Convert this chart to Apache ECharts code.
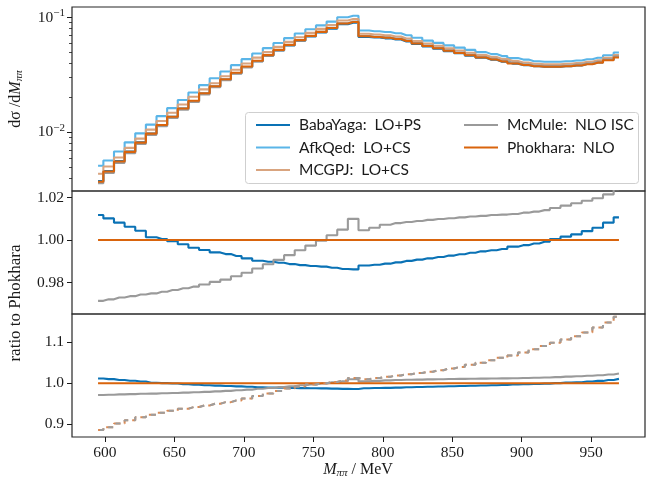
<!DOCTYPE html>
<html><head><meta charset="utf-8">
<script src="https://cdn.jsdelivr.net/npm/echarts@6/dist/echarts.min.js"></script>
<style>html,body{margin:0;padding:0;background:#fff}#c{width:647px;height:483px}</style>
</head><body><div id="c"></div><script>
// bin centres, MeV
const mass = [595.00,602.65,610.31,617.96,625.61,633.27,640.92,648.57,656.22,663.88,671.53,679.18,686.84,694.49,702.14,709.80,717.45,725.10,732.76,740.41,748.06,755.71,763.37,771.02,778.67,786.33,793.98,801.63,809.29,816.94,824.59,832.24,839.90,847.55,855.20,862.86,870.51,878.16,885.82,893.47,901.12,908.78,916.43,924.08,931.73,939.39,947.04,954.69,962.35,970.00];

// top panel: dsigma/dM
const topBabaYaga = [0.003757,0.004601,0.005612,0.006794,0.008169,0.009756,0.01159,0.01366,0.01609,0.01874,0.02176,0.02506,0.02876,0.03274,0.03704,0.04164,0.04656,0.05166,0.05707,0.06269,0.06831,0.07396,0.07995,0.08745,0.09012,0.06777,0.06686,0.06583,0.0643,0.06182,0.05882,0.05596,0.05348,0.0509,0.04873,0.04656,0.04458,0.04285,0.04121,0.03963,0.03848,0.03759,0.03725,0.0373,0.03764,0.03828,0.03928,0.04063,0.04273,0.0453];
const topAfkQed = [0.005117,0.00568,0.006802,0.008169,0.009784,0.01167,0.01382,0.01625,0.01912,0.02221,0.02577,0.0296,0.03384,0.03843,0.04334,0.04861,0.05414,0.05995,0.06615,0.07257,0.0789,0.08531,0.0921,0.1006,0.1034,0.07703,0.07596,0.07476,0.07297,0.07011,0.06667,0.06289,0.06006,0.05711,0.05465,0.05218,0.04993,0.04797,0.0461,0.04428,0.04297,0.0416,0.0412,0.0412,0.04153,0.04219,0.04323,0.04464,0.04683,0.04953];
const topMCGPJ = [0.004359,0.005033,0.006028,0.007311,0.008808,0.01055,0.01254,0.0148,0.01746,0.02037,0.02367,0.02677,0.03074,0.03504,0.03968,0.04466,0.04996,0.05546,0.0613,0.06737,0.07344,0.07954,0.08602,0.09416,0.09705,0.07209,0.07109,0.06997,0.06829,0.06561,0.0624,0.05933,0.05666,0.05388,0.05156,0.04923,0.04711,0.04526,0.04349,0.04178,0.04054,0.03957,0.03918,0.03918,0.0395,0.04013,0.04112,0.04246,0.04454,0.04711];
const topMcMule = [0.003607,0.004428,0.005416,0.006573,0.007925,0.009498,0.0113,0.01335,0.01575,0.0184,0.0214,0.02471,0.02841,0.03243,0.03678,0.04149,0.0465,0.05173,0.05731,0.06314,0.06897,0.07488,0.08119,0.0891,0.09229,0.06891,0.06803,0.06705,0.0655,0.06296,0.0599,0.05699,0.05444,0.0518,0.04958,0.04736,0.04533,0.04357,0.04188,0.04024,0.03907,0.03815,0.03781,0.03784,0.03819,0.03884,0.03984,0.0412,0.04329,0.0459];
const topPhokhara = [0.003713,0.004555,0.005566,0.006751,0.008133,0.009743,0.01158,0.01367,0.01612,0.01881,0.02186,0.02521,0.02895,0.03299,0.03736,0.04205,0.04704,0.05222,0.05772,0.06344,0.06915,0.0749,0.081,0.08866,0.09138,0.06859,0.06764,0.06657,0.06498,0.06243,0.05937,0.05645,0.05391,0.05127,0.04906,0.04684,0.04482,0.04306,0.04138,0.03975,0.03857,0.03765,0.03728,0.03728,0.03758,0.03818,0.03912,0.0404,0.04238,0.04482];

// ratios to Phokhara
const ratioBabaYaga = [1.0118,1.0102,1.0082,1.0063,1.0044,1.0013,1.0005,0.9995,0.9980,0.9964,0.9953,0.9942,0.9934,0.9925,0.9914,0.9903,0.9898,0.9893,0.9887,0.9882,0.9878,0.9875,0.9870,0.9864,0.9862,0.9880,0.9884,0.9889,0.9895,0.9902,0.9908,0.9914,0.9920,0.9927,0.9933,0.9940,0.9947,0.9952,0.9958,0.9969,0.9976,0.9984,0.9992,1.0005,1.0016,1.0027,1.0042,1.0058,1.0082,1.0107];
const ratioMcMule = [0.9714,0.9721,0.9730,0.9736,0.9744,0.9749,0.9757,0.9765,0.9773,0.9781,0.9791,0.9803,0.9814,0.9830,0.9846,0.9866,0.9886,0.9907,0.9929,0.9952,0.9974,0.9997,1.0023,1.0049,1.0100,1.0046,1.0058,1.0072,1.0080,1.0085,1.0090,1.0095,1.0099,1.0103,1.0107,1.0111,1.0114,1.0118,1.0120,1.0123,1.0129,1.0134,1.0141,1.0151,1.0162,1.0173,1.0185,1.0197,1.0215,1.0240];
const ratioPhokhara = [1,1,1,1,1,1,1,1,1,1,1,1,1,1,1,1,1,1,1,1,1,1,1,1,1,1,1,1,1,1,1,1,1,1,1,1,1,1,1,1,1,1,1,1,1,1,1,1,1,1];
const ratioLO = [0.886,0.893,0.902,0.910,0.917,0.923,0.928,0.933,0.938,0.942,0.946,0.950,0.954,0.958,0.963,0.969,0.975,0.981,0.987,0.992,0.997,1.000,1.003,1.007,1.013,1.010,1.013,1.016,1.019,1.022,1.025,1.028,1.032,1.036,1.040,1.045,1.050,1.056,1.062,1.068,1.075,1.083,1.091,1.099,1.107,1.115,1.124,1.136,1.148,1.162];

const xTicks = [600,650,700,750,800,850,900,950];
const topMajor = [0.01,0.1];
const topMinor = [0.004,0.005,0.006,0.007,0.008,0.009,0.02,0.03,0.04,0.05,0.06,0.07,0.08,0.09];
const midTicks = [0.98,1.00,1.02];
const botTicks = [0.9,1.0,1.1];

const names = ['BabaYaga: LO+PS','AfkQed: LO+CS','MCGPJ: LO+CS','McMule: NLO ISC','Phokhara: NLO'];
const colors = {'BabaYaga: LO+PS':'#0a72b5','AfkQed: LO+CS':'#5ab5e8','MCGPJ: LO+CS':'#d9a47f','McMule: NLO ISC':'#9a9a9a','Phokhara: NLO':'#d9640c'};

const SERIF = '"Liberation Serif", "DejaVu Serif", serif';
const TXT = '#1a1a1a';
const L = 72, W = 573;
const G = [{top:7,h:184},{top:191,h:123},{top:314,h:123}];

const pts = arr => mass.map((m,i)=>[m, arr[i]]);
function line(name, data, xi, yi, extra) {
  return Object.assign({
    type:'line', name, data: pts(data), xAxisIndex: xi, yAxisIndex: yi,
    step:'middle', showSymbol:false, symbol:'none', silent:true, animation:false,
    lineStyle:{color: colors[name] || '#999', width:2.1}, itemStyle:{color: colors[name] || '#999'}
  }, extra||{});
}

const xAxes = G.map((g,i)=>({
  type:'value', gridIndex:i, min:576.25, max:988.75,
  axisLine:{show:false}, splitLine:{show:false},
  axisTick:{show:i===2, length:5, inside:false, customValues:xTicks, lineStyle:{color:TXT,width:1}},
  axisLabel:{show:i===2, customValues:xTicks, margin:8, fontFamily:SERIF, fontSize:15.5, color:TXT}
}));

const yAxes = [
  {type:'log', logBase:10, gridIndex:0, position:'left', min:0.00308, max:0.1234,
   axisLine:{show:false}, splitLine:{show:false}, minorTick:{show:false},
   axisTick:{show:true, length:5, customValues:topMajor, lineStyle:{color:TXT,width:1}},
   axisLabel:{customValues:topMajor, margin:7,
     formatter: v => '{b|10}{s|−' + Math.round(-Math.log10(v)) + '}',
     rich:{b:{fontFamily:SERIF,fontSize:15.5,color:TXT}, s:{fontFamily:SERIF,fontSize:11,color:TXT,padding:[0,0,9,0]}}}},
  {type:'log', logBase:10, gridIndex:0, position:'left', offset:0, min:0.00308, max:0.1234,
   axisLine:{show:false}, splitLine:{show:false},
   axisTick:{show:true, length:3, customValues:topMinor, lineStyle:{color:TXT,width:0.8}},
   axisLabel:{show:false}},
  {type:'value', gridIndex:1, min:0.9652, max:1.0231,
   axisLine:{show:false}, splitLine:{show:false},
   axisTick:{show:true, length:5, customValues:midTicks, lineStyle:{color:TXT,width:1}},
   axisLabel:{customValues:midTicks, margin:8, formatter:v=>v.toFixed(2), fontFamily:SERIF, fontSize:15.5, color:TXT}},
  {type:'value', gridIndex:2, min:0.869, max:1.169,
   axisLine:{show:false}, splitLine:{show:false},
   axisTick:{show:true, length:5, customValues:botTicks, lineStyle:{color:TXT,width:1}},
   axisLabel:{customValues:botTicks, margin:8, formatter:v=>v.toFixed(1), fontFamily:SERIF, fontSize:15.5, color:TXT}}
];

const series = [
  line(names[0], topBabaYaga, 0, 0),
  line(names[1], topAfkQed, 0, 0),
  line(names[2], topMCGPJ, 0, 0),
  line(names[3], topMcMule, 0, 0),
  line(names[4], topPhokhara, 0, 0),
  line(names[0], ratioBabaYaga, 1, 2),
  line(names[3], ratioMcMule, 1, 2),
  line(names[4], ratioPhokhara, 1, 2),
  line(names[0], ratioBabaYaga, 2, 3),
  line(names[3], ratioMcMule, 2, 3),
  line(names[4], ratioPhokhara, 2, 3),
  line('LO MCGPJ', ratioLO, 2, 3, {lineStyle:{color:'#d98a55', width:2, type:[7,4], dashOffset:0}}),
  line('LO McMule', ratioLO, 2, 3, {lineStyle:{color:'#9d9d9d', width:2, type:[5,6], dashOffset:-2}})
];

const legendText = {fontFamily:'Lato, "Open Sans", sans-serif', fontSize:15.5, color:TXT, padding:[0,0,0,4]};
const legendFmt = n => n.replace(': ', ':  ');
const option = {
  backgroundColor:'#fff', animation:false,
  grid: G.map(g=>({left:L, top:g.top, width:W, height:g.h, show:true, borderColor:'#262626', borderWidth:1.2, backgroundColor:'transparent'})),
  xAxis: xAxes, yAxis: yAxes, series,
  legend: [
    {data:names.slice(0,3), formatter:legendFmt, orient:'vertical', left:251, top:112, icon:'rect', itemWidth:34, itemHeight:2, itemGap:6.5, textStyle:legendText, selectedMode:false, z:6},
    {data:names.slice(3), formatter:legendFmt, orient:'vertical', left:459, top:112, icon:'rect', itemWidth:34, itemHeight:2, itemGap:6.5, textStyle:legendText, selectedMode:false, z:6}
  ],
  graphic: [
    {type:'rect', z:5, shape:{x:245.5, y:112.5, width:393, height:71, r:3}, style:{fill:'rgba(255,255,255,0.85)', stroke:'#cfcfcf', lineWidth:1}},
    {type:'text', x:16, y:99, rotation:Math.PI/2, style:{text:'{a|dσ /d}{i|M}{s|ππ}', align:'center', verticalAlign:'middle',
      rich:{a:{fontFamily:SERIF,fontSize:16,fill:TXT}, i:{fontFamily:SERIF,fontStyle:'italic',fontSize:16,fill:TXT}, s:{fontFamily:SERIF,fontStyle:'italic',fontSize:11,fill:TXT,padding:[6,0,0,0]}}}},
    {type:'text', x:16, y:303, rotation:Math.PI/2, style:{text:'ratio to Phokhara', align:'center', verticalAlign:'middle', fontFamily:SERIF, fontSize:17, fill:TXT}},
    {type:'text', x:358, y:470, style:{text:'{i|M}{s|ππ}{a| / MeV}', align:'center', verticalAlign:'middle',
      rich:{a:{fontFamily:SERIF,fontSize:16,fill:TXT}, i:{fontFamily:SERIF,fontStyle:'italic',fontSize:16,fill:TXT}, s:{fontFamily:SERIF,fontStyle:'italic',fontSize:11,fill:TXT,padding:[6,0,0,0]}}}}
  ]
};
const chart = echarts.init(document.getElementById('c'), null, {renderer:'canvas'});
chart.setOption(option);
</script></body></html>
